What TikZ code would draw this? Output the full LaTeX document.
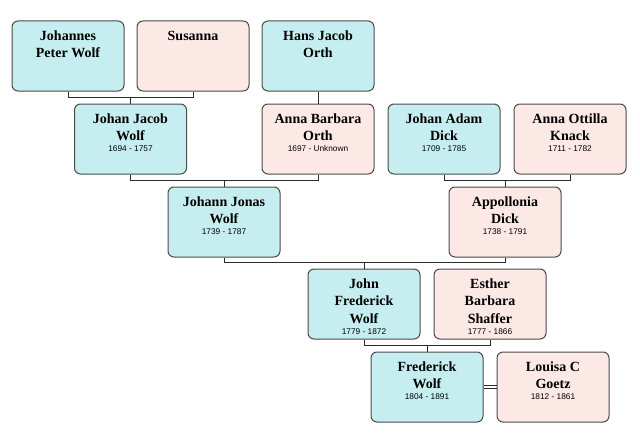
\documentclass[tikz,border=0pt]{standalone}
\usepackage{fontspec}
\setmainfont{Liberation Serif}
\newfontfamily\datefont{Liberation Sans}
\usetikzlibrary{positioning}
\definecolor{wolfblue}{HTML}{C6EEF0}
\definecolor{wolfpink}{HTML}{FCE9E6}
\definecolor{wolfedge}{HTML}{4A4A4A}
\definecolor{wolfline}{HTML}{2B2B2B}
\newcommand{\born}[1]{{\datefont\fontsize{8.3}{11}\selectfont #1\par}}
\newcommand{\person}[2]{\parbox[c][62pt][t]{106pt}{\centering\vspace*{6pt}%
  {\bfseries\fontsize{14}{17.2}\selectfont #1\par}#2}}

\begin{document}
\begin{tikzpicture}[
  x=1pt, y=-1pt,
  box/.style={draw=wolfedge, line width=1pt, rounded corners=6pt,
              minimum width=112pt, minimum height=70pt, inner sep=0pt},
  man/.style={box, fill=wolfblue},
  woman/.style={box, fill=wolfpink},
  link/.style={draw=wolfline, line width=0.9pt}
]
\useasboundingbox (0,0) rectangle (640,444);

% generation 1
\node[man] (jpw) at (68,56) {\person{Johannes\\Peter Wolf}{}};
\node[woman] (sus) at (193,56) {\person{Susanna}{}};
\node[man] (hjo) at (318,56) {\person{Hans Jacob\\Orth}{}};

% generation 2
\node[man] (jjw) at (130.5,139) {\person{Johan Jacob\\Wolf}{\born{1694 - 1757}}};
\node[woman] (abo) at (318,139) {\person{Anna Barbara\\Orth}{\born{1697 - Unknown}}};
\node[man, right=13pt of abo] (jad) {\person{Johan Adam\\Dick}{\born{1709 - 1785}}};
\node[woman, right=13pt of jad] (aok) {\person{Anna Ottilla\\Knack}{\born{1711 - 1782}}};

% generation 3
\node[man] (jjo) at (224,222) {\person{Johann Jonas\\Wolf}{\born{1739 - 1787}}};
\node[woman] (apd) at (505,222) {\person{Appollonia\\Dick}{\born{1738 - 1791}}};

% generation 4
\node[man] (jfw) at (364,304) {\person{John\\Frederick\\Wolf}{\born{1779 - 1872}}};
\node[woman, right=13pt of jfw] (ebs) {\person{Esther\\Barbara\\Shaffer}{\born{1777 - 1866}}};

% generation 5
\node[man] (frw) at (427,387) {\person{Frederick\\Wolf}{\born{1804 - 1891}}};
\node[woman, right=13pt of frw] (lcg) {\person{Louisa C\\Goetz}{\born{1812 - 1861}}};

% parent bars
\draw[link] (jpw.south) -- ++(0,6) -| (sus.south);
\draw[link] (jjw.north) -- ++(0,-7);
\draw[link] (hjo.south) -- (abo.north);
\draw[link] (jjw.south) -- ++(0,6) -| (abo.south);
\draw[link] (jjo.north) -- ++(0,-7);
\draw[link] (jad.south) -- ++(0,6) -| (aok.south);
\draw[link] (apd.north) -- ++(0,-7);
\draw[link] (jjo.south) -- ++(0,5) -| (apd.south);
\draw[link] (jfw.north) -- ++(0,-7);
\draw[link] (jfw.south) -- ++(0,6) -| (ebs.south);
\draw[link] (frw.north) -- ++(0,-7);

% marriage
\draw[link, line width=0.8pt] ([yshift=-1.6pt]frw.east) -- ([yshift=-1.6pt]lcg.west);
\draw[link, line width=0.8pt] ([yshift=1.6pt]frw.east) -- ([yshift=1.6pt]lcg.west);
\end{tikzpicture}
\end{document}
